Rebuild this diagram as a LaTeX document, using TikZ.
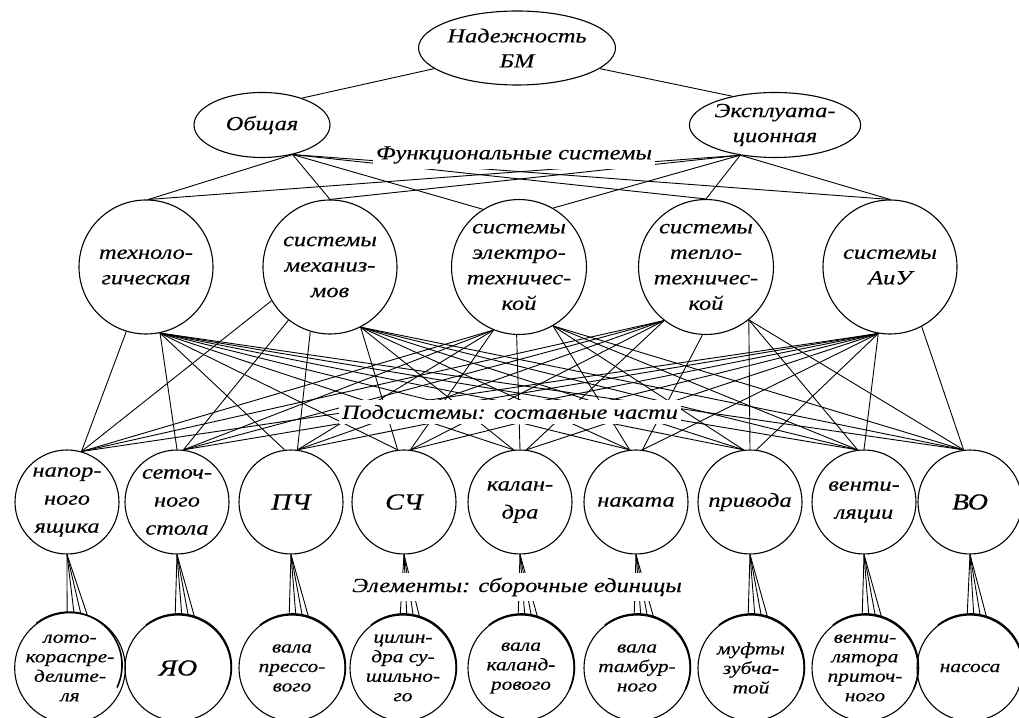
\documentclass[tikz,border=0pt]{standalone}
\usepackage{fontspec}
\newfontfamily\rf{Liberation Serif}[FakeStretch=1.22,FakeBold=0.3]
\usetikzlibrary{shapes.geometric}
\begin{document}
\begin{tikzpicture}[x=1pt,y=1pt]
\tikzset{
  ell/.style={ellipse, draw, line width=1.1pt, inner sep=0pt, align=center,
    font={\rf\itshape\fontsize{20}{25}\selectfont}},
  sysc/.style={circle, draw, line width=1.1pt, minimum size=134pt, inner sep=0pt, align=center,
    font={\rf\itshape\fontsize{20}{25.5}\selectfont}},
  subc/.style={circle, draw, line width=1.1pt, minimum size=104pt, inner sep=0pt, align=center,
    font={\rf\itshape\fontsize{20}{28}\selectfont}},
  bigt/.style={font={\rf\itshape\fontsize{23}{28}\selectfont}},
  elc/.style={circle, draw, line width=1.1pt, minimum size=106pt, inner sep=0pt, align=center,
    font={\rf\itshape\fontsize{17.5}{19.5}\selectfont}},
  lbl/.style={fill=white, inner xsep=3pt, inner ysep=5pt,
    font={\rf\itshape\fontsize{20}{24}\selectfont}},
  cn/.style={line width=0.9pt},
  rim/.style={line width=1.6pt}
}
\useasboundingbox (0,0) rectangle (1019,717);
\clip (0,0) rectangle (1019,717);

% level 0 and 1
\node[ell, minimum width=184pt, minimum height=74pt] (N) at (517,669) {Надежность\\БМ};
\node[ell, minimum width=136pt, minimum height=65pt] (O) at (262,592) {Общая};
\node[ell, minimum width=136pt, minimum height=65pt] (E) at (775,592) {Эксплуата-\\ционная};

% level 2
\node[sysc] (t) at (146,450) {техноло-\\гическая};
\node[sysc] (m) at (330,450) {системы\\механиз-\\мов};
\node[sysc] (e) at (519,450) {системы\\электро-\\техничес-\\кой};
\node[sysc] (h) at (706,450) {системы\\тепло-\\техничес-\\кой};
\node[sysc] (a) at (890,450) {системы\\АиУ};

% level 3
\node[subc] (s1) at (67,215) {напор-\\ного\\ящика};
\node[subc] (s2) at (177,215) {сеточ-\\ного\\стола};
\node[subc, bigt] (s3) at (291,215) {ПЧ};
\node[subc, bigt] (s4) at (404,215) {СЧ};
\node[subc] (s5) at (520,215) {калан-\\дра};
\node[subc] (s6) at (636,215) {наката};
\node[subc] (s7) at (750,215) {привода};
\node[subc] (s8) at (864,215) {венти-\\ляции};
\node[subc, bigt] (s9) at (970,215) {ВО};

% level 4
\node[elc] (u1) at (70,49) {лото-\\кораспре-\\делите-\\ля};
\node[elc, bigt] (u2) at (178,49) {ЯО};
\node[elc] (u3) at (292,49) {вала\\прессо-\\вого};
\node[elc] (u4) at (403,49) {цилин-\\дра су-\\шильно-\\го};
\node[elc] (u5) at (521,49) {вала\\каланд-\\рового};
\node[elc] (u6) at (637,49) {вала\\тамбур-\\ного};
\node[elc] (u7) at (751,49) {муфты\\зубча-\\той};
\node[elc] (u8) at (865,49) {венти-\\лятора\\приточ-\\ного};
\node[elc] (u9) at (970,49) {насоса};

% rims of level-4 circles
\foreach \j in {1,...,9}
  \draw[rim] ([shift={(0.8pt,0.6pt)}]u\j.128) arc[start angle=128, end angle=-25, radius=53pt];

% connectors level 0 -> 1
\draw[cn] (N.194) -- (O.34);
\draw[cn] (N.346) -- (E.146);

% connectors level 1 -> 2
\draw[cn] (O.-44) -- (t.88);
\draw[cn] (O.-44) -- (m.90);
\draw[cn] (O.-44) -- (e.122);
\draw[cn] (O.-44) -- (h.90);
\draw[cn] (O.-44) -- (a.90);
\draw[cn] (E.221) -- (t.88);
\draw[cn] (E.221) -- (m.90);
\draw[cn] (E.221) -- (e.60);
\draw[cn] (E.221) -- (h.90);
\draw[cn] (E.221) -- (a.90);

% connectors level 2 -> 3
\draw[cn] (t.-107) -- (s1.74);
\foreach \j/\b in {2/90,3/97,4/97,5/97,6/97,7/97,8/97,9/97}
  \draw[cn] (t.-78) -- (s\j.\b);
\draw[cn] (m.-150) -- (s1.74);
\draw[cn] (m.-128) -- (s2.83);
\draw[cn] (m.-107) -- (s3.83);
\foreach \j in {4,...,9}
  \draw[cn] (m.-63) -- (s\j.97);
\foreach \j/\b in {1/74,2/83,3/83,4/83}
  \draw[cn] (e.-112) -- (s\j.\b);
\draw[cn] (e.-92) -- (s5.90);
\foreach \j in {6,...,9}
  \draw[cn] (e.-60) -- (s\j.97);
\foreach \j/\b in {1/74,2/83,3/83,4/83,5/83}
  \draw[cn] (h.-128) -- (s\j.\b);
\draw[cn] (h.-93) -- (s6.83);
\draw[cn] (h.-51) -- (s7.90);
\foreach \j in {8,9}
  \draw[cn] (h.-51) -- (s\j.97);
\foreach \j/\b in {1/74,2/83,3/83,4/83,5/83,6/83,7/83,8/90}
  \draw[cn] (a.-100) -- (s\j.\b);
\draw[cn] (a.-62) -- (s9.97);

% connectors level 3 -> 4
\foreach \j in {1,...,9} {
  \draw[cn] (s\j.-90) -- (u\j.93);
  \draw[cn] (s\j.-90) -- (u\j.86);
  \draw[cn] (s\j.-90) -- (u\j.79);
  \draw[cn] (s\j.-90) -- (u\j.72);
}

% level labels
\node[lbl] (F) at (514,562) {Функциональные системы};
\node[lbl] (P) at (510,305) {Подсистемы: составные части};
\node[lbl] (L) at (517,130) {Элементы: сборочные единицы};
\end{tikzpicture}
\end{document}
